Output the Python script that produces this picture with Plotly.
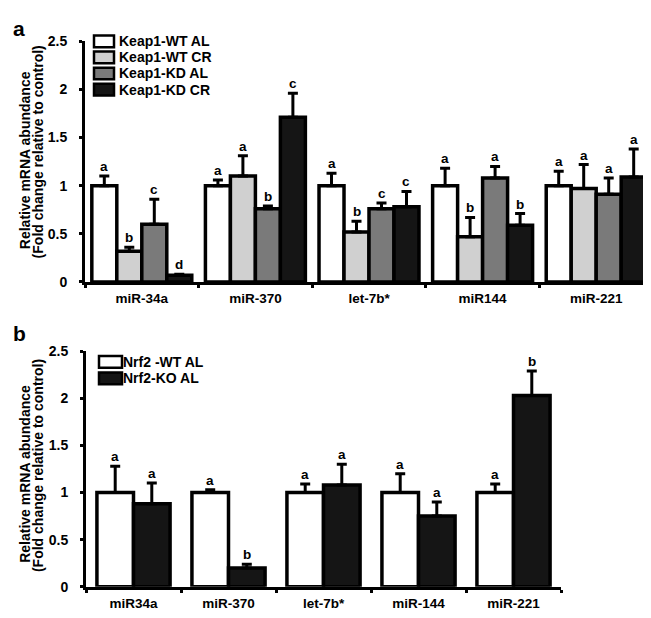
import plotly.graph_objects as go

# panel a
groups_a = ["miR-34a", "miR-370", "let-7b*", "miR144", "miR-221"]
names_a = ["Keap1-WT AL", "Keap1-WT CR", "Keap1-KD AL", "Keap1-KD CR"]
colors_a = ["#ffffff", "#d0d0d0", "#7a7a7a", "#151515"]
values_a = [
    [1.00, 1.00, 1.00, 1.00, 1.00],
    [0.32, 1.10, 0.52, 0.47, 0.97],
    [0.60, 0.76, 0.76, 1.08, 0.91],
    [0.07, 1.71, 0.78, 0.59, 1.09],
]
errors_a = [
    [0.10, 0.06, 0.13, 0.18, 0.15],
    [0.04, 0.21, 0.11, 0.20, 0.25],
    [0.26, 0.03, 0.06, 0.12, 0.17],
    [0.01, 0.25, 0.16, 0.12, 0.29],
]
letters_a = [
    ["a", "a", "a", "a", "a"],
    ["b", "a", "b", "b", "a"],
    ["c", "b", "c", "a", "a"],
    ["d", "c", "c", "b", "a"],
]

# panel b
groups_b = ["miR34a", "miR-370", "let-7b*", "miR-144", "miR-221"]
names_b = ["Nrf2 -WT AL", "Nrf2-KO AL"]
colors_b = ["#ffffff", "#151515"]
values_b = [
    [1.00, 1.00, 1.00, 1.00, 1.00],
    [0.88, 0.20, 1.08, 0.75, 2.03],
]
errors_b = [
    [0.28, 0.03, 0.09, 0.20, 0.09],
    [0.22, 0.04, 0.22, 0.15, 0.26],
]
letters_b = [
    ["a", "a", "a", "a", "a"],
    ["a", "b", "a", "a", "b"],
]

W, H = 651, 618
GAP_A, GAP_B = 0.12, 0.23


def px_x(p):
    return p / W


def px_y(p):
    return 1 - p / H


fig = go.Figure()
annotations = []
shapes = []


def add_panel(groups, names, colors, values, errors, letters, gap, xa, ya):
    n = len(names)
    bw = (1 - gap) / n
    for k in range(n):
        off = -(1 - gap) / 2 + k * bw
        fig.add_trace(go.Bar(
            x=groups, y=values[k], name=names[k],
            xaxis=xa, yaxis=ya, showlegend=False,
            width=bw, offset=off,
            marker=dict(color=colors[k], line=dict(color="black", width=3.5)),
            error_y=dict(type="data", symmetric=False, array=errors[k],
                         arrayminus=[0] * len(groups),
                         color="black", thickness=3, width=5),
        ))
        for i in range(len(groups)):
            annotations.append(dict(
                x=i + off + bw / 2, y=values[k][i] + errors[k][i],
                xref=xa, yref=ya, text=letters[k][i], showarrow=False,
                yanchor="bottom", yshift=0, font=dict(size=13.5),
            ))


add_panel(groups_a, names_a, colors_a, values_a, errors_a, letters_a, GAP_A, "x", "y")
add_panel(groups_b, names_b, colors_b, values_b, errors_b, letters_b, GAP_B, "x2", "y2")


def legend(names, colors, x0, x1, yc, bh, tx):
    for j, (nm, c) in enumerate(zip(names, colors)):
        y = yc[j]
        shapes.append(dict(type="rect", xref="paper", yref="paper",
                           x0=px_x(x0), x1=px_x(x1),
                           y0=px_y(y + bh / 2), y1=px_y(y - bh / 2),
                           fillcolor=c, line=dict(color="black", width=2.5)))
        annotations.append(dict(x=px_x(tx), y=px_y(y), xref="paper", yref="paper",
                                text=nm, showarrow=False, xanchor="left",
                                yanchor="middle", font=dict(size=14)))


legend(names_a, colors_a, 86, 106, [26, 42.5, 59, 75.5], 12, 109)
legend(names_b, colors_b, 91, 114, [355, 372], 12, 113)

# panel letters and y-axis titles
annotations.append(dict(x=px_x(3), y=px_y(13), xref="paper", yref="paper", text="a",
                        showarrow=False, xanchor="left", yanchor="middle", font=dict(size=21)))
annotations.append(dict(x=px_x(3), y=px_y(326), xref="paper", yref="paper", text="b",
                        showarrow=False, xanchor="left", yanchor="middle", font=dict(size=21)))
for yc in (140, 462):
    annotations.append(dict(x=px_x(17), y=px_y(yc + 8), xref="paper", yref="paper",
                            text="Relative mRNA abundance", textangle=-90, showarrow=False,
                            xanchor="center", yanchor="middle", font=dict(size=14)))
    annotations.append(dict(x=px_x(30), y=px_y(yc), xref="paper", yref="paper",
                            text="(Fold change relative to control)", textangle=-90,
                            showarrow=False, xanchor="center", yanchor="middle",
                            font=dict(size=14)))

xcommon = dict(showline=True, linewidth=3, linecolor="black", ticks="outside",
               tickson="boundaries", ticklen=3, tickwidth=3, tickcolor="black",
               showgrid=False, zeroline=False, tickfont=dict(size=13.5),
               ticklabelstandoff=2)
ycommon = dict(range=[0, 2.5], tickvals=[0, 0.5, 1, 1.5, 2, 2.5],
               ticktext=["0", "0.5", "1", "1.5", "2", "2.5"],
               showline=True, linewidth=3, linecolor="black", ticks="outside",
               ticklen=3, tickwidth=3, tickcolor="black", showgrid=False,
               zeroline=False, tickfont=dict(size=14), ticklabelstandoff=9)

fig.update_layout(
    width=W, height=H,
    margin=dict(l=0, r=0, t=0, b=0),
    paper_bgcolor="white", plot_bgcolor="white",
    font=dict(family="Liberation Sans, Arial, sans-serif", size=13.5, color="black",
              weight="bold"),
    barmode="group",
    xaxis=dict(domain=[px_x(77), px_x(645)], anchor="y", **xcommon),
    yaxis=dict(domain=[px_y(273), px_y(26)], anchor="x", **ycommon),
    xaxis2=dict(domain=[px_x(78), px_x(553)], anchor="y2", **xcommon),
    yaxis2=dict(domain=[px_y(586), px_y(344)], anchor="x2", **ycommon),
    annotations=annotations,
    shapes=shapes,
)

fig.write_html("out.html")
